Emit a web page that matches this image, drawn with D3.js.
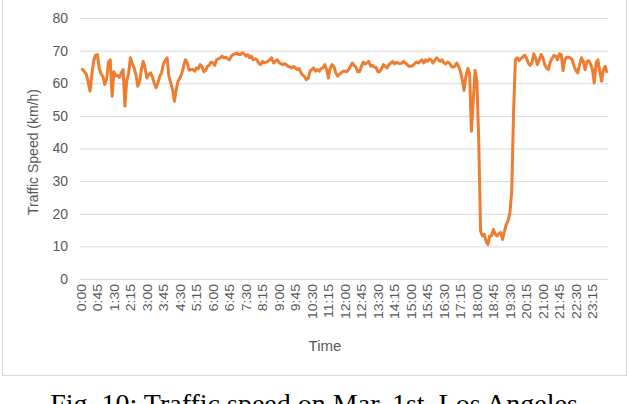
<!DOCTYPE html>
<html>
<head>
<meta charset="utf-8">
<script src="https://cdn.jsdelivr.net/npm/d3@7"></script>
<style>
  body { margin: 0; background: #fff; }
  svg text { font-family: "Liberation Sans", Arial, sans-serif; }
</style>
</head>
<body>
<div id="chart"></div>
<script>
// speed every 5 minutes, 0:00 .. 23:55 (288 points)
const speed = [
  64.2, 64.2, 63.5, 62.7, 60.1, 57.6, 63.0, 66.9, 68.6, 68.8, 64.5, 62.9, 62.1, 59.6, 61.1, 66.4, 67.2, 56.0,
  63.5, 62.3, 62.4, 61.8, 63.2, 64.2, 53.0, 60.8, 62.9, 67.8, 66.0, 64.7, 62.7, 59.1, 60.4, 64.2, 66.7, 64.7,
  61.6, 62.7, 63.2, 61.9, 60.1, 58.6, 60.1, 62.1, 63.2, 65.9, 67.0, 67.8, 62.1, 60.1, 58.1, 54.5, 58.1, 60.6,
  61.6, 62.9, 65.2, 67.2, 66.2, 64.0, 64.2, 64.2, 63.7, 64.7, 64.4, 65.7, 65.2, 63.5, 63.9, 65.2, 65.5, 66.5,
  66.2, 65.5, 67.2, 67.5, 67.8, 68.3, 67.8, 68.0, 67.5, 67.2, 68.3, 68.8, 69.0, 69.3, 68.8, 68.8, 69.3, 69.0,
  68.3, 68.8, 67.8, 68.3, 67.2, 67.5, 67.2, 66.2, 65.7, 66.7, 66.2, 66.5, 66.7, 67.2, 67.8, 66.2, 66.7, 67.2,
  66.5, 66.0, 65.7, 66.0, 65.7, 65.2, 65.0, 64.7, 65.2, 64.7, 64.2, 64.5, 63.2, 62.5, 62.0, 61.1, 61.6, 63.7,
  64.2, 64.7, 63.7, 64.2, 63.7, 64.5, 64.7, 65.7, 64.2, 61.6, 64.7, 65.7, 65.2, 63.2, 62.2, 62.7, 63.2, 63.7,
  63.7, 63.5, 64.2, 65.2, 66.2, 65.5, 64.9, 63.5, 63.5, 65.2, 66.5, 65.9, 66.2, 66.7, 65.2, 65.5, 64.9, 64.9,
  63.5, 63.5, 64.5, 65.7, 65.2, 64.7, 65.7, 66.2, 66.7, 65.9, 66.4, 66.2, 66.0, 66.2, 66.7, 66.2, 65.7, 65.2,
  65.2, 65.4, 66.0, 66.5, 66.2, 66.7, 67.2, 66.2, 67.2, 66.7, 67.4, 67.2, 66.2, 67.0, 67.8, 67.2, 66.7, 67.2,
  66.2, 65.9, 66.5, 66.2, 65.2, 64.9, 65.2, 66.2, 65.2, 63.7, 61.1, 57.8, 62.1, 64.5, 63.2, 45.3, 54.5, 63.9,
  60.6, 42.2, 14.7, 13.2, 13.7, 11.6, 10.6, 13.2, 13.2, 15.2, 13.7, 13.2, 13.9, 14.2, 12.1, 14.7, 16.7, 17.8,
  20.3, 26.9, 51.4, 67.2, 67.8, 66.9, 67.6, 68.0, 68.6, 67.8, 66.2, 65.5, 66.2, 69.0, 67.8, 65.7, 67.2, 68.8,
  67.8, 65.7, 64.7, 64.2, 66.5, 67.6, 68.5, 68.3, 67.2, 69.0, 68.8, 63.9, 67.2, 68.0, 68.0, 67.8, 67.2, 65.2,
  63.9, 63.2, 65.7, 67.8, 66.7, 64.2, 66.7, 66.9, 65.9, 64.2, 60.1, 66.2, 67.2, 63.7, 60.6, 64.2, 65.2, 63.2
]
const tickLabels = [
  '0:00', '0:45', '1:30', '2:15', '3:00', '3:45', '4:30', '5:15', '6:00', '6:45', '7:30', '8:15',
  '9:00', '9:45', '10:30', '11:15', '12:00', '12:45', '13:30', '14:15', '15:00', '15:45', '16:30', '17:15',
  '18:00', '18:45', '19:30', '20:15', '21:00', '21:45', '22:30', '23:15'
]
const yTicks = [0, 10, 20, 30, 40, 50, 60, 70, 80]
const stepMinutes = 5

const width = 628
const height = 404
const plot = {left: 80, right: 608, top: 18, bottom: 279}

const toMinutes = s => { const p = s.split(':'); return +p[0] * 60 + +p[1] }

const svg = d3.select('#chart').append('svg')
    .attr('width', width)
    .attr('height', height)

// chart frame
svg.append('rect')
    .attr('x', 2.5).attr('y', -5)
    .attr('width', 624).attr('height', 380.5)
    .attr('fill', 'none')
    .attr('stroke', '#d9d9d9')

const xScale = d3.scaleLinear()
    .domain([-stepMinutes / 2, speed.length * stepMinutes - stepMinutes / 2])
    .range([plot.left, plot.right])

const yScale = d3.scaleLinear()
    .domain([0, 80])
    .range([plot.bottom, plot.top])

// y grid + labels
const yAxis = svg.append('g')
    .attr('transform', `translate(${plot.left},0)`)
    .call(d3.axisLeft(yScale).tickValues(yTicks).tickSize(-(plot.right - plot.left)).tickPadding(12))
yAxis.select('.domain').remove()
yAxis.selectAll('.tick line').attr('stroke', '#d9d9d9').attr('stroke-width', 1)
yAxis.selectAll('.tick text')
    .attr('fill', '#595959')
    .style('font-size', '14px')

// x labels (rotated)
const xAxis = svg.append('g')
    .attr('transform', `translate(0,${plot.bottom})`)
    .call(d3.axisBottom(xScale).tickValues(tickLabels.map(toMinutes)).tickSize(0).tickFormat((d, i) => tickLabels[i]))
xAxis.select('.domain').remove()
xAxis.selectAll('.tick text')
    .attr('fill', '#595959')
    .style('font-size', '14px')
    .attr('text-anchor', 'end')
    .attr('transform', 'rotate(-90) scale(1,0.9)')
    .attr('x', -5)
    .attr('y', 0)
    .attr('dy', '0.35em')

const line = d3.line()
    .x((d, i) => xScale(i * stepMinutes))
    .y(d => yScale(d))

svg.append('path')
    .datum(speed)
    .attr('d', line)
    .attr('fill', 'none')
    .attr('stroke', '#ed7d31')
    .attr('stroke-width', 3)
    .attr('stroke-linejoin', 'round')

// axis titles
svg.append('text')
    .attr('transform', 'translate(38,152) rotate(-90)')
    .attr('text-anchor', 'middle')
    .attr('fill', '#595959')
    .style('font-size', '14px')
    .text('Traffic Speed (km/h)')

svg.append('text')
    .attr('x', 325).attr('y', 351)
    .attr('text-anchor', 'middle')
    .attr('fill', '#595959')
    .style('font-size', '15px')
    .text('Time')

// figure caption (cut by the image edge, as in the source)
svg.append('text')
    .attr('x', 314).attr('y', 413)
    .attr('text-anchor', 'middle')
    .attr('fill', '#000')
    .style('font-family', '"Liberation Serif", "Times New Roman", serif')
    .style('font-size', '28px')
    .text('Fig. 10: Traffic speed on Mar. 1st, Los Angeles')
</script>
</body>
</html>
